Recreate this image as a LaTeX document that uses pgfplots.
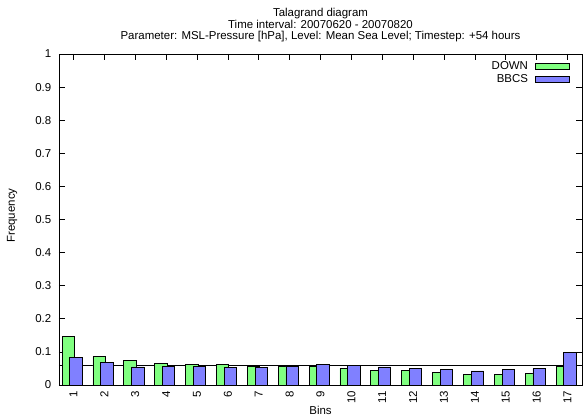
\documentclass[border=0pt]{standalone}
\usepackage{fontspec}
\setmainfont{Liberation Sans}
\usepackage{pgfplots}
\pgfplotsset{compat=1.18}
\definecolor{downgreen}{RGB}{128,255,128}
\definecolor{bbcsblue}{RGB}{128,128,255}
\begin{document}
\begin{tikzpicture}[font=\fontsize{11.5}{12}\selectfont]
\begin{axis}[
  name=ax,
  scale only axis, width=523bp, height=331bp,
  xmin=0.53, xmax=17.47, ymin=0, ymax=1,
  xtick={1,2,3,4,5,6,7,8,9,10,11,12,13,14,15,16,17},
  ytick={0,0.1,0.2,0.3,0.4,0.5,0.6,0.7,0.8,0.9,1},
  /pgf/number format/assume math mode=true,
  tick align=inside, major tick length=6bp,
  tick style={black, line width=0.6bp},
  axis line style={black, line width=0.7bp},
  xticklabel style={rotate=90, anchor=east, inner sep=6bp},
  yticklabel style={anchor=east, inner sep=0pt, xshift=-7.5bp},
  legend style={at={(1,1)}, anchor=north east, xshift=-12bp, yshift=-5bp,
    draw=none, fill=none, inner sep=0pt, row sep=0pt, column sep=5bp,
    font=\fontsize{11.5}{12}\selectfont},
  legend cell align=right,
  legend plot pos=right,
  legend image code/.code={\draw[#1] (0bp,-3bp) rectangle (34bp,3bp);},
]
\addplot[black, line width=0.7bp, sharp plot, forget plot] coordinates {(0.53,0.0588235) (17.47,0.0588235)};
\addplot[ybar, bar width=0.4, bar shift=-0.17, fill=downgreen, draw=black, line width=0.8bp] coordinates {
(1,0.148) (2,0.0855) (3,0.0746) (4,0.0656) (5,0.0625) (6,0.0613) (7,0.0565) (8,0.0565) (9,0.0565)
(10,0.0504) (11,0.0453) (12,0.0444) (13,0.0384) (14,0.0332) (15,0.0332) (16,0.0353) (17,0.0574)};
\addlegendentry{DOWN}
\addplot[ybar, bar width=0.4, bar shift=0.08, fill=bbcsblue, draw=black, line width=0.8bp] coordinates {
(1,0.084) (2,0.0686) (3,0.0544) (4,0.0565) (5,0.0565) (6,0.0534) (7,0.0534) (8,0.0565) (9,0.0625)
(10,0.0595) (11,0.0544) (12,0.0504) (13,0.0483) (14,0.0423) (15,0.0462) (16,0.0492) (17,0.0988)};
\addlegendentry{BBCS}
\end{axis}
\node[anchor=base, align=center, inner sep=0pt] at ([yshift=14bp]ax.north) {Talagrand diagram\\Time interval: 20070620 - 20070820\\Parameter: MSL-Pressure [hPa], Level: Mean Sea Level; Timestep: +54 hours};
\node[rotate=90, anchor=base, inner sep=0pt] at ([xshift=-44bp,yshift=4bp]ax.west) {Frequency};
\node[anchor=base, inner sep=0pt] at ([yshift=-29.6bp]ax.south) {Bins};
\pgfresetboundingbox
\useasboundingbox ([xshift=-59bp,yshift=-33bp]ax.south west) rectangle ([xshift=3bp,yshift=54bp]ax.north east);
\end{tikzpicture}
\end{document}
